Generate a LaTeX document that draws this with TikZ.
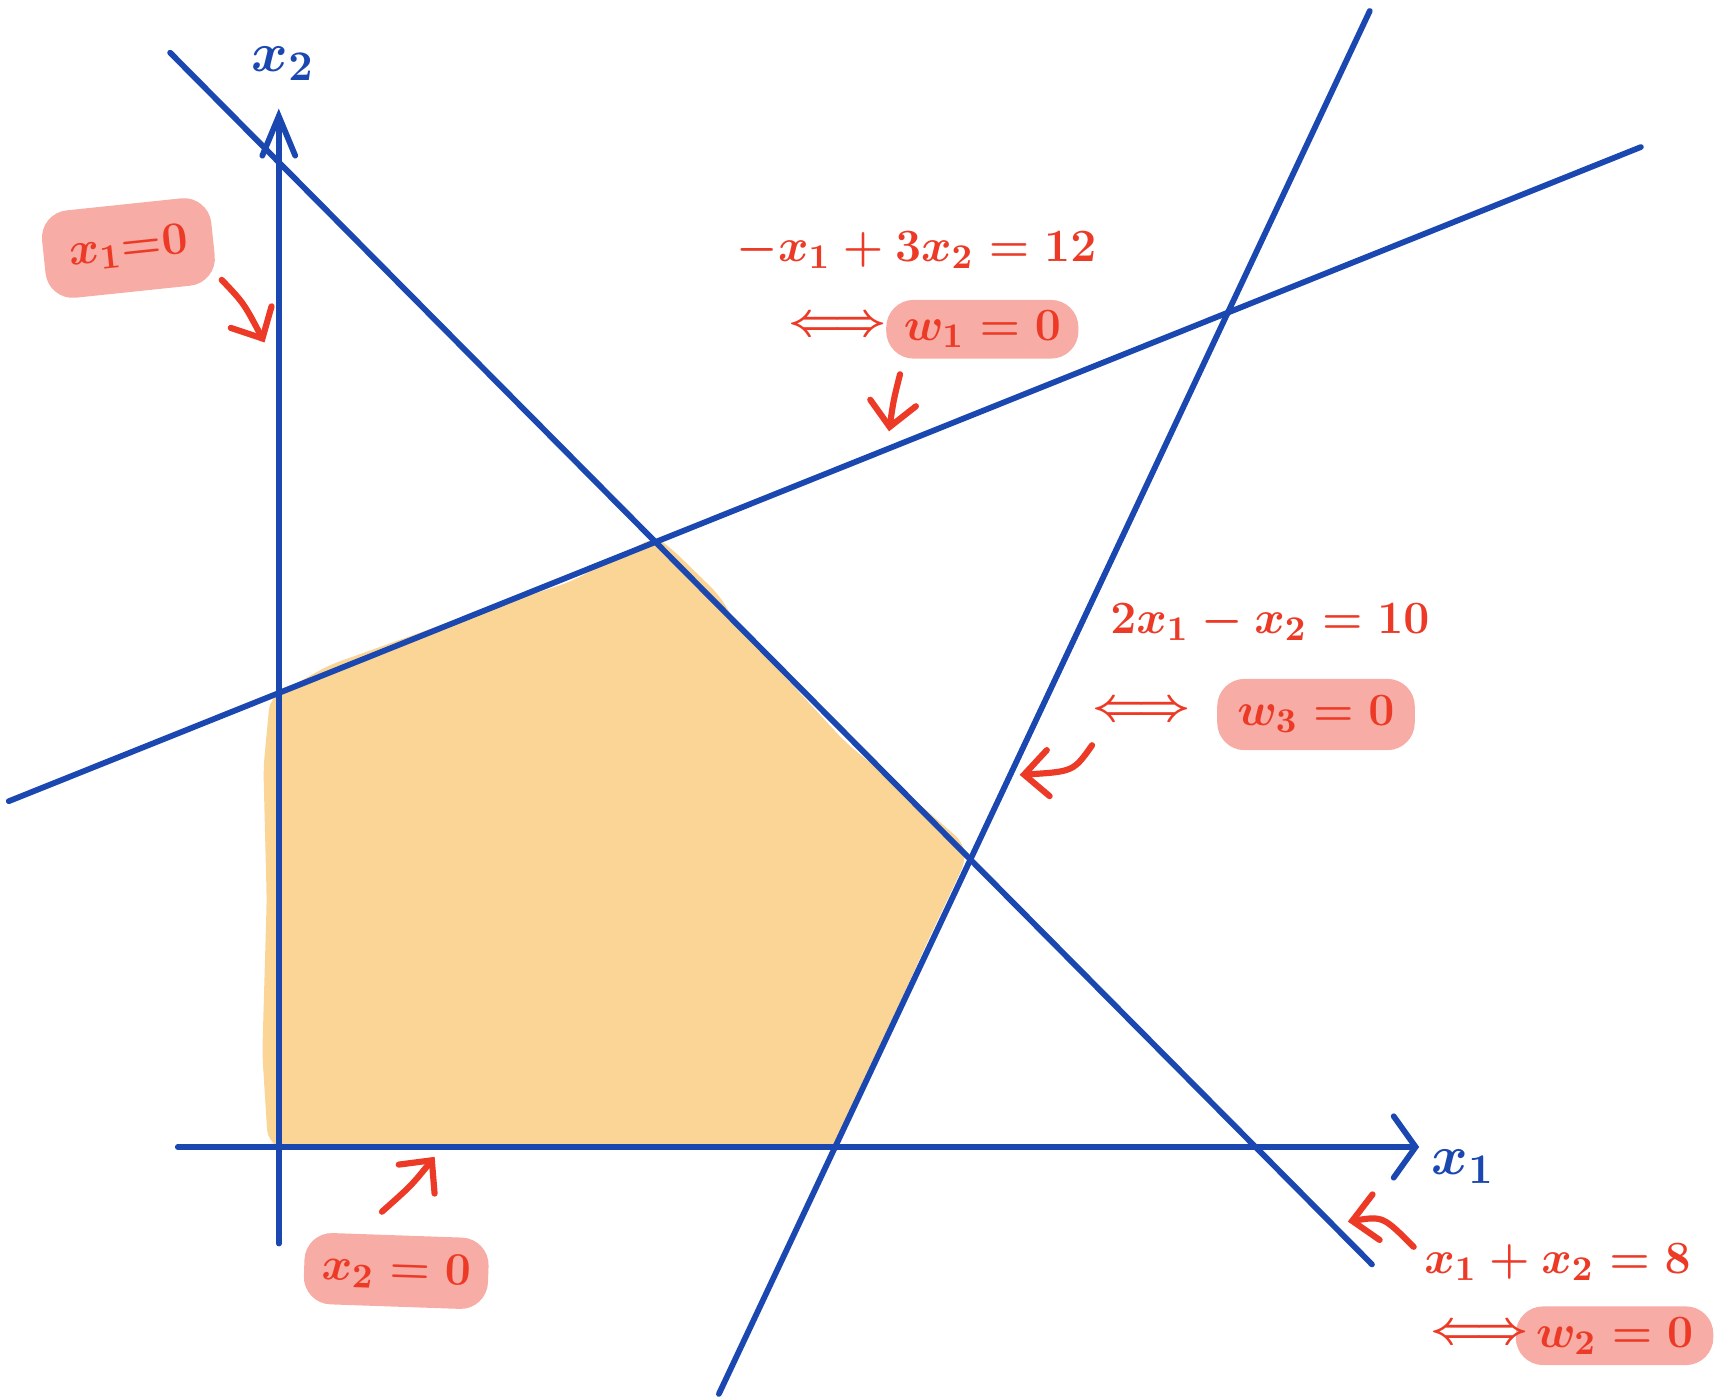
\documentclass[tikz,border=0pt]{standalone}
\usepackage{amsmath,amssymb}
\usepackage{xcolor}
\usepackage{tikz}
\usetikzlibrary{positioning, calc, arrows.meta}

\definecolor{lineblue}{RGB}{27,72,176}
\definecolor{penred}{RGB}{236,58,38}
\definecolor{hlpink}{RGB}{247,172,165}
\definecolor{regionorange}{RGB}{250,213,149}

\begin{document}
\begin{tikzpicture}[x=0.1mm, y=-0.1mm, >=stealth,
    bline/.style={lineblue, line width=1.5pt, line cap=round},
    rarrow/.style={penred, line width=1.6pt, line cap=round,
        -{Straight Barb[length=2.2mm, width=4.2mm, line cap=round]}},
    eqlabel/.style={text=penred, font=\fontsize{13}{16}\selectfont\boldmath, inner sep=1pt},
    hlbox/.style={eqlabel, fill=hlpink, rounded corners=2.5mm, inner xsep=1.6mm, inner ysep=1mm},
    axlabel/.style={text=lineblue, font=\fontsize{15}{18}\selectfont\boldmath}]
        \useasboundingbox (0,0) rectangle (1568,1273);

        % Define axis and line end points
        \coordinate (O) at (254,1045);
        \coordinate (X1a) at (162,1045);
        \coordinate (X1b) at (1293,1045);
        \coordinate (X2a) at (254,1133);
        \coordinate (X2b) at (254,99);
        \coordinate (A1) at (155,48);
        \coordinate (A2) at (1250,1152);
        \coordinate (B1) at (8,730);
        \coordinate (B2) at (1495,134);
        \coordinate (C1) at (655,1270);
        \coordinate (C2) at (1248,10);

        % Feasible region
        \fill[regionorange, rounded corners=3pt] (244,1040) -- (239,960) -- (243,820) -- (240,700)
            -- (246,636) -- (300,606) -- (420,563) -- (520,530) -- (597,489) -- (612,500)
            -- (655,542) -- (672,570) -- (770,676) -- (830,726) -- (878,768) -- (880,784)
            -- (845,858) -- (800,958) -- (764,1040) -- (757,1045) -- (254,1045) -- cycle;

        % Draw constraint lines
        \draw[bline] (A1) -- (A2);
        \draw[bline] (B1) -- (B2);
        \draw[bline] (C1) -- (C2);

        % Draw axes
        \draw[bline, -{Straight Barb[length=2mm, width=5.6mm, line cap=round]}] (X1a) -- (X1b);
        \draw[bline, -{Straight Barb[length=3.6mm, width=3mm, line cap=round]}] (X2a) -- (X2b);
        \node[axlabel] (x1lab) at (1333,1063) {$x_1$};
        \node[axlabel] (x2lab) at (258,58) {$x_2$};

        % Labels for x1 = 0 and x2 = 0
        \node[hlbox, rotate=6, minimum height=8mm, minimum width=15.5mm] (x1zero) at (117,226) {$x_1{=}0$};
        \node[hlbox, rotate=-2, minimum height=6.5mm, minimum width=15.5mm] (x2zero) at (361,1158) {$x_2=0$};

        % Constraint w1
        \node[eqlabel] (eqone) at (835,228) {$-x_1+3x_2=12$};
        \node[hlbox, minimum width=16mm] (wone) at (895,300) {$w_1=0$};
        \node[eqlabel] (iffone) at (763,297) {$\Longleftrightarrow$};

        % Constraint w3
        \node[eqlabel] (eqthree) at (1157,567) {$2x_1-x_2=10$};
        \node[hlbox, minimum width=18mm, minimum height=6.5mm] (wthree) at (1199,651) {$w_3=0$};
        \node[eqlabel] (iffthree) at (1040,648) {$\Longleftrightarrow$};

        % Constraint w2
        \node[eqlabel] (eqtwo) at (1419,1150) {$x_1+x_2=8$};
        \node[hlbox, minimum width=18mm] (wtwo) at (1471,1217) {$w_2=0$};
        \node[eqlabel] (ifftwo) at (1348,1216) {$\Longleftrightarrow$};

        % Pointers to the lines
        \coordinate (p1s) at (202,255);
        \coordinate (p1e) at (241,312);
        \coordinate (p2s) at (820,341);
        \coordinate (p2e) at (810,393);
        \coordinate (p3s) at (995,679);
        \coordinate (p3e) at (929,706);
        \coordinate (p4s) at (348,1104);
        \coordinate (p4e) at (396,1054);
        \coordinate (p5s) at (1288,1136);
        \coordinate (p5e) at (1228,1113);
        \draw[rarrow] (p1s) .. controls (222,276) .. (p1e);
        \draw[rarrow] (p2s) .. controls (814,365) .. (p2e);
        \draw[rarrow] (p3s) .. controls (978,703) .. (p3e);
        \draw[rarrow] (p4s) .. controls (375,1080) .. (p4e);
        \draw[rarrow] (p5s) .. controls (1260,1108) .. (p5e);
    \end{tikzpicture}
\end{document}
